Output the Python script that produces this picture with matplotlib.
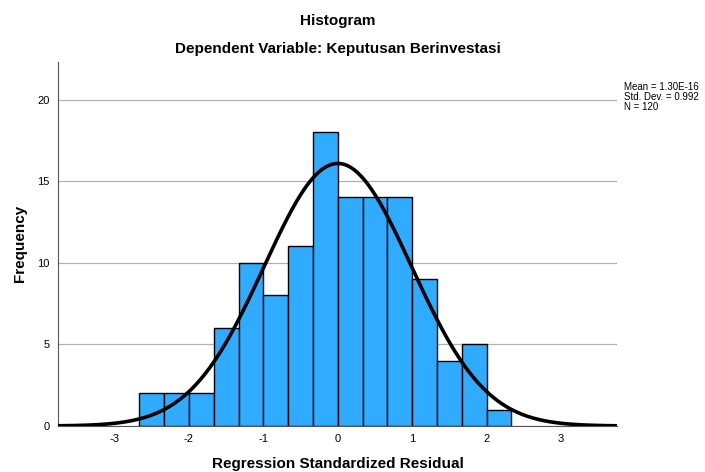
import numpy as np
import matplotlib.pyplot as plt

plt.rcParams['font.family'] = ['Liberation Sans', 'DejaVu Sans']
plt.rcParams['axes.unicode_minus'] = False

# histogram of standardized residuals (bin width 1/3)
bin_edges = [-8/3 + k/3 for k in range(16)]
counts = [2, 2, 2, 6, 10, 8, 11, 18, 14, 14, 14, 9, 4, 5, 1]
mean = 1.30e-16
std = 0.992
n = 120
xticks = [-3, -2, -1, 0, 1, 2, 3]
yticks = [0, 5, 10, 15, 20]

fig = plt.figure(figsize=(7.05, 4.72), dpi=100)
ax = fig.add_axes([0.0823, 0.0975, 0.7927, 0.7711])

ax.grid(axis='y', color='#b0b0b0', lw=0.9, zorder=0)
ax.set_axisbelow(True)

lefts = np.array(bin_edges[:-1])
widths = np.diff(bin_edges)
ax.bar(lefts, counts, width=widths, align='edge', color='#2fabff',
       edgecolor='black', linewidth=1.0, zorder=2)

xs = np.linspace(-3.76, 3.75, 400)
binw = widths[0]
ys = n * binw * np.exp(-0.5 * ((xs - mean) / std) ** 2) / (std * np.sqrt(2 * np.pi))
ax.plot(xs, ys, color='black', lw=2.6, zorder=3)

ax.set_xlim(-3.76, 3.75)
ax.set_ylim(0, 22.3)
ax.set_xticks(xticks)
ax.set_yticks(yticks)
ax.tick_params(length=0, labelsize=8, pad=6)
for s in ['top', 'right']:
    ax.spines[s].set_visible(False)
ax.spines['left'].set_color('#555555')
ax.spines['bottom'].set_color('#555555')

fig.text(0.479, 0.017, 'Regression Standardized Residual', ha='center', va='center',
         fontsize=11, fontweight='bold')
fig.text(0.029, 0.485, 'Frequency', ha='center', va='center', rotation=90,
         fontsize=11, fontweight='bold')

fig.text(0.479, 0.956, 'Histogram', ha='center', va='center', fontsize=11, fontweight='bold')
fig.text(0.479, 0.896, 'Dependent Variable: Keputusan Berinvestasi', ha='center', va='center',
         fontsize=11, fontweight='bold')

fig.text(0.885, 0.794, 'Mean = 1.30E-16\nStd. Dev. = 0.992\nN = 120', ha='left',
         va='center', fontsize=7, linespacing=1.0)

fig.savefig('out.png', dpi=100)
